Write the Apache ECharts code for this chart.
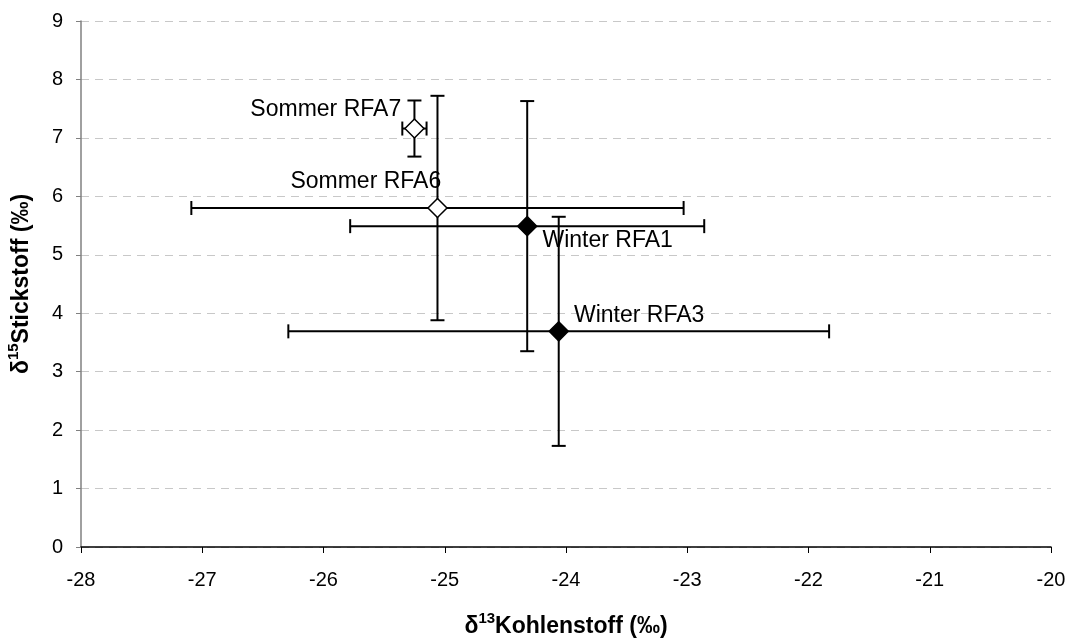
<!DOCTYPE html>
<html>
<head>
<meta charset="utf-8">
<script src="https://cdn.jsdelivr.net/npm/echarts@6/dist/echarts.min.js"></script>
<style>
  html, body { margin: 0; padding: 0; background: #fff; }
  #chart { width: 1072px; height: 639px; }
</style>
</head>
<body>
<div id="chart"></div>
<script>
// sample names and isotope values (‰)
const names = ['Sommer RFA7', 'Sommer RFA6', 'Winter RFA1', 'Winter RFA3'];
const d13C = [-25.25, -25.06, -24.32, -24.06];
const d15N = [7.16, 5.80, 5.49, 3.69];
const errC = [0.10, 2.03, 1.46, 2.23];
const errN = [0.48, 1.92, 2.14, 1.96];
const xTicks = [-28, -27, -26, -25, -24, -23, -22, -21, -20];
const yTicks = [0, 1, 2, 3, 4, 5, 6, 7, 8, 9];

// label placement per point
const labelPos = [
  { position: 'left', offset: [2, -19] },
  { position: 'left', offset: [19, -26] },
  { position: 'right', offset: [0, 15] },
  { position: 'right', offset: [0, -16] }
];

const font = 'Liberation Sans, Arial, sans-serif';

const chart = echarts.init(document.getElementById('chart'));

const errData = names.map((n, i) => [d13C[i], d15N[i], errC[i], errN[i]]);
const pointData = names.map((n, i) => ({
  name: n,
  value: [d13C[i], d15N[i]],
  itemStyle: {
    color: n.indexOf('Winter') === 0 ? '#000' : '#fff',
    borderColor: '#000',
    borderWidth: 1.5,
    opacity: 1
  },
  label: {
    show: true,
    position: labelPos[i].position,
    offset: labelPos[i].offset,
    distance: 5,
    formatter: '{b}',
    color: '#000',
    fontSize: 23,
    fontFamily: font
  }
}));

const renderErrorBars = (params, api) => {
  const x = api.value(0), y = api.value(1), ex = api.value(2), ey = api.value(3);
  const c = api.coord([x, y]);
  const l = api.coord([x - ex, y]);
  const r = api.coord([x + ex, y]);
  const t = api.coord([x, y + ey]);
  const b = api.coord([x, y - ey]);
  const cap = 7;
  const style = { stroke: '#000', lineWidth: 2 };
  const line = (x1, y1, x2, y2) => ({ type: 'line', shape: { x1, y1, x2, y2 }, style });
  return {
    type: 'group',
    children: [
      line(l[0], c[1], r[0], c[1]),
      line(l[0], c[1] - cap, l[0], c[1] + cap),
      line(r[0], c[1] - cap, r[0], c[1] + cap),
      line(c[0], t[1], c[0], b[1]),
      line(c[0] - cap, t[1], c[0] + cap, t[1]),
      line(c[0] - cap, b[1], c[0] + cap, b[1])
    ]
  };
};

// superscript: small token pinned to the top of a taller line
const titleRich = {
  d: { fontSize: 23, fontWeight: 'bold', fontFamily: font, color: '#000', lineHeight: 32 },
  s: { fontSize: 15, fontWeight: 'bold', fontFamily: font, color: '#000', lineHeight: 14, verticalAlign: 'top' }
};

const option = {
  animation: false,
  backgroundColor: '#fff',
  grid: { left: 81, right: 21, top: 21, bottom: 92, outerBoundsMode: 'none', containLabel: false },
  xAxis: {
    type: 'value',
    min: xTicks[0],
    max: xTicks[xTicks.length - 1],
    interval: 1,
    name: '{d|δ}{s|13}{d|Kohlenstoff (‰)}',
    nameLocation: 'middle',
    nameGap: 64,
    nameTextStyle: { rich: titleRich },
    axisLine: { onZero: false, lineStyle: { color: '#000', width: 1.5 } },
    axisTick: { show: true, length: 6, lineStyle: { color: '#000' } },
    axisLabel: { color: '#000', fontSize: 20, fontFamily: font, margin: 23 },
    splitLine: { show: false }
  },
  yAxis: {
    type: 'value',
    min: yTicks[0],
    max: yTicks[yTicks.length - 1],
    interval: 1,
    name: '{d|δ}{s|15}{d|Stickstoff (‰)}',
    nameLocation: 'middle',
    nameRotate: 90,
    nameGap: 43,
    nameTextStyle: { rich: titleRich },
    axisLine: { show: true, onZero: false, lineStyle: { color: '#808080', width: 1.5 } },
    axisTick: { show: true, length: 5, lineStyle: { color: '#808080' } },
    axisLabel: { color: '#000', fontSize: 20, fontFamily: font, margin: 18 },
    splitLine: { show: true, lineStyle: { color: '#c8c8c8', type: [8, 6], width: 1 } }
  },
  series: [
    {
      type: 'custom',
      renderItem: renderErrorBars,
      encode: { x: 0, y: 1 },
      data: errData,
      z: 1
    },
    {
      type: 'scatter',
      symbol: 'diamond',
      symbolSize: 19,
      itemStyle: { opacity: 1 },
      data: pointData,
      z: 3
    }
  ]
};

chart.setOption(option);
</script>
</body>
</html>
